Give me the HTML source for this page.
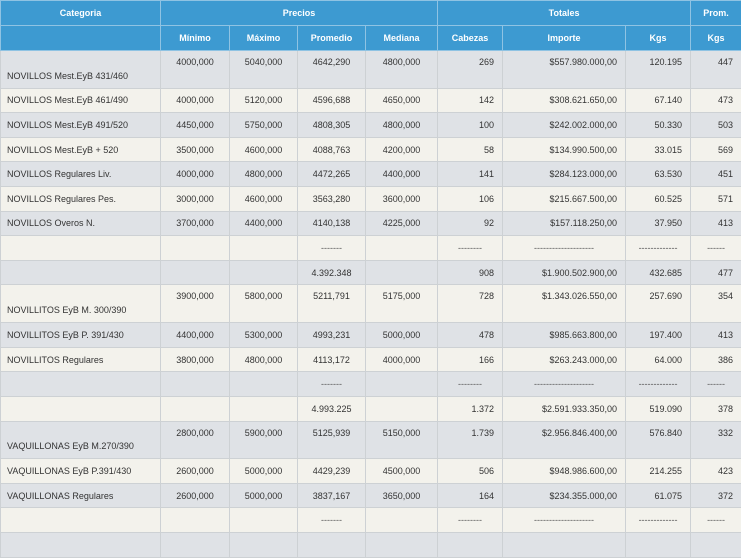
<!DOCTYPE html>
<html><head><meta charset="utf-8"><style>
body{margin:0;background:#f3f2ec;width:741px;height:537px;overflow:hidden;font-family:"Liberation Sans",sans-serif;}
table{border-collapse:collapse;table-layout:fixed;width:741px;font-size:9px;color:#333;}
td,th{border:1px solid #cdd1d4;padding:0 8px;white-space:nowrap;overflow:hidden;}
th{background:#3d9ad1;color:#fff;font-weight:bold;height:24px;border-color:#8fc3e3;font-size:9px;}
td{text-align:right;}
td.c{text-align:left;padding-left:6px;}
td.m{text-align:center;}
tr.g td{background:#dfe2e6;}
tr.w td{background:#f3f2ec;}
tr{height:24.6px;}
tr.t{height:37.7px;}
tr.t td{vertical-align:top;padding-top:6px;}
tr.t td.c{vertical-align:bottom;padding-bottom:7px;}
td.d{text-align:center;color:#555;}
</style></head><body>
<table>
<colgroup><col style="width:160px"><col style="width:69px"><col style="width:68px"><col style="width:68px"><col style="width:72px"><col style="width:65px"><col style="width:123px"><col style="width:65px"><col style="width:51px"></colgroup>
<tr><th>Categoria</th><th colspan="4">Precios</th><th colspan="3">Totales</th><th>Prom.</th></tr>
<tr><th></th><th>Mínimo</th><th>Máximo</th><th>Promedio</th><th>Mediana</th><th>Cabezas</th><th>Importe</th><th>Kgs</th><th>Kgs</th></tr>
<tr class="g t"><td class="c">NOVILLOS Mest.EyB 431/460</td><td class="m">4000,000</td><td class="m">5040,000</td><td class="m">4642,290</td><td class="m">4800,000</td><td>269</td><td>$557.980.000,00</td><td>120.195</td><td>447</td></tr>
<tr class="w"><td class="c">NOVILLOS Mest.EyB 461/490</td><td class="m">4000,000</td><td class="m">5120,000</td><td class="m">4596,688</td><td class="m">4650,000</td><td>142</td><td>$308.621.650,00</td><td>67.140</td><td>473</td></tr>
<tr class="g"><td class="c">NOVILLOS Mest.EyB 491/520</td><td class="m">4450,000</td><td class="m">5750,000</td><td class="m">4808,305</td><td class="m">4800,000</td><td>100</td><td>$242.002.000,00</td><td>50.330</td><td>503</td></tr>
<tr class="w"><td class="c">NOVILLOS Mest.EyB + 520</td><td class="m">3500,000</td><td class="m">4600,000</td><td class="m">4088,763</td><td class="m">4200,000</td><td>58</td><td>$134.990.500,00</td><td>33.015</td><td>569</td></tr>
<tr class="g"><td class="c">NOVILLOS Regulares Liv.</td><td class="m">4000,000</td><td class="m">4800,000</td><td class="m">4472,265</td><td class="m">4400,000</td><td>141</td><td>$284.123.000,00</td><td>63.530</td><td>451</td></tr>
<tr class="w"><td class="c">NOVILLOS Regulares Pes.</td><td class="m">3000,000</td><td class="m">4600,000</td><td class="m">3563,280</td><td class="m">3600,000</td><td>106</td><td>$215.667.500,00</td><td>60.525</td><td>571</td></tr>
<tr class="g"><td class="c">NOVILLOS Overos N.</td><td class="m">3700,000</td><td class="m">4400,000</td><td class="m">4140,138</td><td class="m">4225,000</td><td>92</td><td>$157.118.250,00</td><td>37.950</td><td>413</td></tr>
<tr class="w"><td class="c"></td><td></td><td></td><td class="d">-------</td><td></td><td class="d">--------</td><td class="d">--------------------</td><td class="d">-------------</td><td class="d">------</td></tr>
<tr class="g"><td class="c"></td><td></td><td></td><td class="m">4.392.348</td><td></td><td>908</td><td>$1.900.502.900,00</td><td>432.685</td><td>477</td></tr>
<tr class="w t"><td class="c">NOVILLITOS EyB M. 300/390</td><td class="m">3900,000</td><td class="m">5800,000</td><td class="m">5211,791</td><td class="m">5175,000</td><td>728</td><td>$1.343.026.550,00</td><td>257.690</td><td>354</td></tr>
<tr class="g"><td class="c">NOVILLITOS EyB P. 391/430</td><td class="m">4400,000</td><td class="m">5300,000</td><td class="m">4993,231</td><td class="m">5000,000</td><td>478</td><td>$985.663.800,00</td><td>197.400</td><td>413</td></tr>
<tr class="w"><td class="c">NOVILLITOS Regulares</td><td class="m">3800,000</td><td class="m">4800,000</td><td class="m">4113,172</td><td class="m">4000,000</td><td>166</td><td>$263.243.000,00</td><td>64.000</td><td>386</td></tr>
<tr class="g"><td class="c"></td><td></td><td></td><td class="d">-------</td><td></td><td class="d">--------</td><td class="d">--------------------</td><td class="d">-------------</td><td class="d">------</td></tr>
<tr class="w"><td class="c"></td><td></td><td></td><td class="m">4.993.225</td><td></td><td>1.372</td><td>$2.591.933.350,00</td><td>519.090</td><td>378</td></tr>
<tr class="g t"><td class="c">VAQUILLONAS EyB M.270/390</td><td class="m">2800,000</td><td class="m">5900,000</td><td class="m">5125,939</td><td class="m">5150,000</td><td>1.739</td><td>$2.956.846.400,00</td><td>576.840</td><td>332</td></tr>
<tr class="w"><td class="c">VAQUILLONAS EyB P.391/430</td><td class="m">2600,000</td><td class="m">5000,000</td><td class="m">4429,239</td><td class="m">4500,000</td><td>506</td><td>$948.986.600,00</td><td>214.255</td><td>423</td></tr>
<tr class="g"><td class="c">VAQUILLONAS Regulares</td><td class="m">2600,000</td><td class="m">5000,000</td><td class="m">3837,167</td><td class="m">3650,000</td><td>164</td><td>$234.355.000,00</td><td>61.075</td><td>372</td></tr>
<tr class="w"><td class="c"></td><td></td><td></td><td class="d">-------</td><td></td><td class="d">--------</td><td class="d">--------------------</td><td class="d">-------------</td><td class="d">------</td></tr>
<tr class="g"><td class="c"></td><td></td><td></td><td></td><td></td><td></td><td></td><td></td><td></td></tr>
</table>
</body></html>
